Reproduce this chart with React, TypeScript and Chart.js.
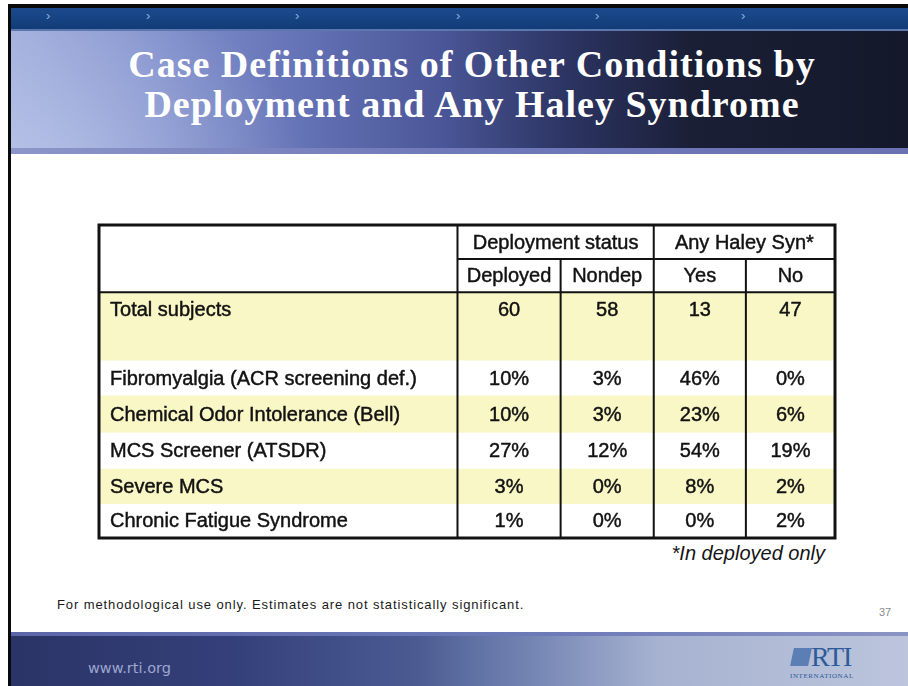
import React, { useEffect, useRef } from "react";
import { Chart, registerables } from "chart.js";

Chart.register(...registerables);

// ---- data ----
const titleLines = ["Case Definitions of Other Conditions by", "Deployment and Any Haley Syndrome"];
const groupLabels = ["Deployment status", "Any Haley Syn*"];
const columnLabels = ["Deployed", "Nondep", "Yes", "No"];
const conditions = [
  "Total subjects",
  "Fibromyalgia (ACR screening def.)",
  "Chemical Odor Intolerance (Bell)",
  "MCS Screener (ATSDR)",
  "Severe MCS",
  "Chronic Fatigue Syndrome",
];
const totalSubjects = [60, 58, 13, 47];
const deployedPct = [10, 10, 27, 3, 1];
const nondepPct = [3, 3, 12, 0, 0];
const haleyYesPct = [46, 23, 54, 8, 0];
const haleyNoPct = [0, 6, 19, 2, 2];
const footnoteTable = "*In deployed only";
const footnoteSlide = "For methodological use only. Estimates are not statistically significant.";
const pageNumber = "37";
const siteUrl = "www.rti.org";

// ---- layout (table units) ----
const COL_EDGES = [0, 358, 461, 554, 646, 735];
const ROW_EDGES = [0, 34, 67, 135, 170, 207, 243, 278, 312];
const YELLOW = "#f9f7c6";
const INK = "#121212";
const FONT = '20px "Liberation Sans", Arial, sans-serif';

type Cell = { x: number; y: number; text: string; align: CanvasTextAlign };

function buildCells(): Cell[] {
  const cells: Cell[] = [];
  const colCenter = (i: number) => (COL_EDGES[i] + COL_EDGES[i + 1]) / 2;
  cells.push({ x: (COL_EDGES[1] + COL_EDGES[3]) / 2, y: (ROW_EDGES[0] + ROW_EDGES[1]) / 2, text: groupLabels[0], align: "center" });
  cells.push({ x: (COL_EDGES[3] + COL_EDGES[5]) / 2, y: (ROW_EDGES[0] + ROW_EDGES[1]) / 2, text: groupLabels[1], align: "center" });
  columnLabels.forEach((c, i) =>
    cells.push({ x: colCenter(i + 1), y: (ROW_EDGES[1] + ROW_EDGES[2]) / 2, text: c, align: "center" })
  );
  // total subjects row (text in upper half of double row)
  const ty = ROW_EDGES[2] + (ROW_EDGES[1] - ROW_EDGES[0]) / 2;
  cells.push({ x: 11, y: ty, text: conditions[0], align: "left" });
  totalSubjects.forEach((v, i) => cells.push({ x: colCenter(i + 1), y: ty, text: String(v), align: "center" }));
  const series = [deployedPct, nondepPct, haleyYesPct, haleyNoPct];
  for (let r = 1; r < conditions.length; r++) {
    const y = (ROW_EDGES[r + 2] + ROW_EDGES[r + 3]) / 2;
    cells.push({ x: 11, y, text: conditions[r], align: "left" });
    series.forEach((s, i) => cells.push({ x: colCenter(i + 1), y, text: s[r - 1] + "%", align: "center" }));
  }
  return cells;
}

const tablePlugin = {
  id: "tableGrid",
  beforeDatasetsDraw(chart: any) {
    const { ctx } = chart;
    const xs = chart.scales.x;
    const ys = chart.scales.y;
    const px = (v: number) => xs.getPixelForValue(v);
    const py = (v: number) => ys.getPixelForValue(v);
    ctx.save();
    // row fills
    for (let r = 0; r < conditions.length; r++) {
      if (r % 2 !== 0) continue;
      const y0 = py(ROW_EDGES[r + 2]);
      const y1 = py(ROW_EDGES[r + 3]);
      ctx.fillStyle = YELLOW;
      ctx.fillRect(px(0), y0, px(COL_EDGES[5]) - px(0), y1 - y0);
    }
    ctx.strokeStyle = INK;
    ctx.lineWidth = 2;
    const line = (x0: number, y0: number, x1: number, y1: number) => {
      ctx.beginPath();
      ctx.moveTo(px(x0), py(y0));
      ctx.lineTo(px(x1), py(y1));
      ctx.stroke();
    };
    line(COL_EDGES[1], ROW_EDGES[1], COL_EDGES[5], ROW_EDGES[1]);
    line(COL_EDGES[0], ROW_EDGES[2], COL_EDGES[5], ROW_EDGES[2]);
    line(COL_EDGES[1], ROW_EDGES[0], COL_EDGES[1], ROW_EDGES[8]);
    line(COL_EDGES[3], ROW_EDGES[0], COL_EDGES[3], ROW_EDGES[8]);
    line(COL_EDGES[2], ROW_EDGES[1], COL_EDGES[2], ROW_EDGES[8]);
    line(COL_EDGES[4], ROW_EDGES[1], COL_EDGES[4], ROW_EDGES[8]);
    ctx.lineWidth = 3;
    ctx.strokeRect(px(0), py(0), px(COL_EDGES[5]) - px(0), py(ROW_EDGES[8]) - py(0));
    ctx.restore();
  },
  afterDatasetsDraw(chart: any) {
    const { ctx } = chart;
    const meta = chart.getDatasetMeta(0);
    const raw = chart.data.datasets[0].data as Cell[];
    ctx.save();
    ctx.font = FONT;
    ctx.fillStyle = INK;
    ctx.strokeStyle = INK;
    ctx.lineWidth = 0.45;
    ctx.textBaseline = "middle";
    meta.data.forEach((el: any, i: number) => {
      const c = raw[i];
      ctx.textAlign = c.align;
      ctx.fillText(c.text, el.x, el.y + 1);
      ctx.strokeText(c.text, el.x, el.y + 1);
    });
    ctx.restore();
  },
};

function TableChart() {
  const ref = useRef<HTMLCanvasElement | null>(null);
  useEffect(() => {
    if (!ref.current) return;
    const chart = new Chart(ref.current, {
      type: "scatter",
      data: { datasets: [{ data: buildCells() as any, pointRadius: 0, showLine: false }] },
      options: {
        animation: false,
        responsive: false,
        events: [],
        layout: { padding: 2 },
        scales: {
          x: { type: "linear", min: 0, max: COL_EDGES[5], display: false },
          y: { type: "linear", min: 0, max: ROW_EDGES[8], reverse: true, display: false },
        },
        plugins: { legend: { display: false }, tooltip: { enabled: false } },
      },
      plugins: [tablePlugin],
    } as any);
    return () => chart.destroy();
  }, []);
  return (
    <canvas
      ref={ref}
      width={740}
      height={317}
      style={{ position: "absolute", left: 97, top: 223, width: 740, height: 317 }}
    />
  );
}

const abs = (o: React.CSSProperties): React.CSSProperties => ({ position: "absolute", ...o });

export default function App() {
  useEffect(() => {
    document.body.style.margin = "0";
  }, []);
  const chevrons = [49, 149, 298, 459, 598, 744];
  return (
    <div style={abs({ left: 0, top: 0, width: 908, height: 686, background: "#fff", overflow: "hidden", fontFamily: '"Liberation Sans", Arial, sans-serif' })}>
      {/* frame */}
      <div style={abs({ left: 8, top: 4, width: 900, height: 4, background: "#0a0a0a" })} />
      <div style={abs({ left: 8, top: 4, width: 3, height: 682, background: "#0a0a0a" })} />
      {/* top band */}
      <div style={abs({ left: 11, top: 8, width: 897, height: 21, background: "linear-gradient(180deg,#1b4a8c,#123c78)" })} />
      <div style={abs({ left: 11, top: 29, width: 897, height: 2, background: "#5a78ad" })} />
      {chevrons.map((x) => (
        <div key={x} style={abs({ left: x - 3, top: 7, fontSize: 13, lineHeight: "18px", color: "#8fb0e4" })}>›</div>
      ))}
      {/* header */}
      <div
        style={abs({
          left: 11,
          top: 31,
          width: 897,
          height: 117,
          background:
            "radial-gradient(ellipse 260px 200px at 40px 150px, rgba(210,220,245,0.5), rgba(210,220,245,0) 100%), linear-gradient(90deg,#a0addb 0%,#8392cd 15%,#6573b7 32%,#4a5697 48%,#2c3462 62%,#1a1f36 76%,#14182a 100%)",
        })}
      />
      <div style={abs({ left: 11, top: 148, width: 897, height: 6, background: "linear-gradient(90deg,#8c96c8,#6f78b8 50%,#6a72b4)" })} />
      <div
        style={abs({
          left: 0,
          top: 44,
          width: 944,
          textAlign: "center",
          color: "#ffffff",
          fontFamily: '"Liberation Serif", "Times New Roman", serif',
          fontWeight: "bold",
          fontSize: 38,
          lineHeight: "40px",
          letterSpacing: 1,
          whiteSpace: "nowrap",
        })}
      >
        {titleLines.map((t) => (
          <div key={t}>{t}</div>
        ))}
      </div>

      <TableChart />

      <div style={abs({ left: 600, top: 541, width: 225, textAlign: "right", fontSize: 20, lineHeight: "24px", fontStyle: "italic", color: "#141414" })}>
        {footnoteTable}
      </div>
      <div style={abs({ left: 57, top: 597, fontSize: 13, lineHeight: "16px", letterSpacing: 0.9, color: "#1a1a1a", whiteSpace: "nowrap" })}>
        {footnoteSlide}
      </div>
      <div style={abs({ left: 879, top: 605, fontSize: 11, lineHeight: "14px", color: "#8a8a8a" })}>{pageNumber}</div>

      {/* footer */}
      <div style={abs({ left: 11, top: 632, width: 897, height: 4, background: "linear-gradient(90deg,#5a66a8,#6d7ab8 60%,#8a94c4)" })} />
      <div
        style={abs({
          left: 11,
          top: 636,
          width: 897,
          height: 50,
          background:
            "linear-gradient(90deg,#2b3466 0%,#34407a 25%,#4b5b92 45%,#7485b4 58%,#a6b2d0 72%,#bcc5dc 100%)",
        })}
      />
      <div style={abs({ left: 88, top: 659, fontFamily: '"DejaVu Sans", Verdana, sans-serif', fontSize: 14.5, lineHeight: "18px", color: "#9da6cf" })}>
        {siteUrl}
      </div>
      {/* logo */}
      <div style={abs({ left: 792, top: 648, width: 18, height: 18, background: "#5b7fb5", transform: "skewX(-12deg)" })} />
      <div style={abs({ left: 811, top: 643, fontFamily: '"Liberation Serif", serif', fontSize: 28, lineHeight: "28px", color: "#2d5b9a", letterSpacing: -1 })}>RTI</div>
      <div style={abs({ left: 790, top: 672, fontFamily: '"Liberation Serif", serif', fontSize: 7, lineHeight: "8px", color: "#2d5b9a", letterSpacing: 0.6 })}>INTERNATIONAL</div>
    </div>
  );
}
